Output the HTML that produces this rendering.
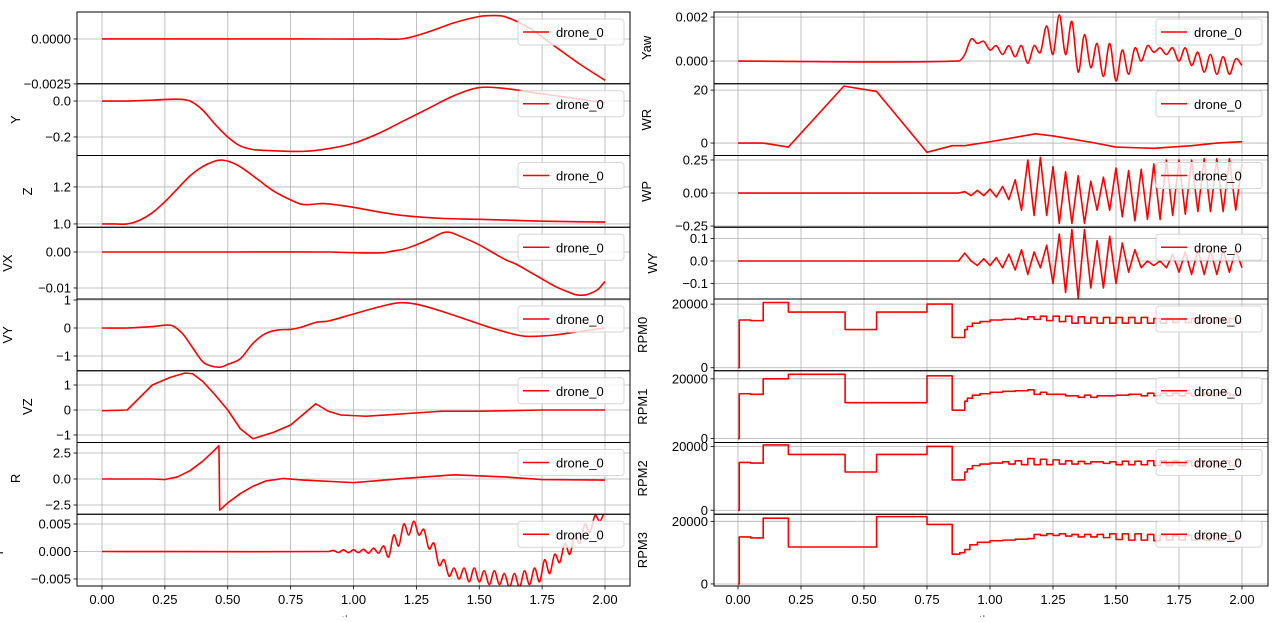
<!DOCTYPE html>
<html><head><meta charset="utf-8"><style>
html,body{margin:0;padding:0;background:#fff;}
svg text{font-family:"Liberation Sans","DejaVu Sans",sans-serif;font-size:13px;fill:#000;}
</style></head><body>
<svg id="fig" xmlns="http://www.w3.org/2000/svg" width="1280" height="617" viewBox="0 0 1280 617"></svg>
<script>
// ---------- data ----------
const xTicks = [0, 0.25, 0.5, 0.75, 1.0, 1.25, 1.5, 1.75, 2.0];
const xTickLabels = ["0.00","0.25","0.50","0.75","1.00","1.25","1.50","1.75","2.00"];

const xT = [0,0.4,0.8,1.1,1.2,1.3,1.4,1.5,1.55,1.6,1.7,1.8,1.9,2.0];
const xV = [0,0,0,0,0.00002,0.0004,0.0009,0.00125,0.0013,0.00125,0.0006,-0.0004,-0.0014,-0.0023];

const yT = [0,0.1,0.2,0.3,0.35,0.4,0.45,0.5,0.55,0.6,0.65,0.8,0.9,1.0,1.1,1.2,1.3,1.4,1.5,1.6,1.7,1.8,1.9,2.0];
const yV = [0,0,0.005,0.01,0.0,-0.05,-0.13,-0.2,-0.25,-0.27,-0.275,-0.28,-0.265,-0.235,-0.18,-0.11,-0.04,0.03,0.075,0.07,0.05,0.03,0.01,-0.01];

const zT = [0,0.05,0.1,0.15,0.2,0.25,0.3,0.35,0.4,0.45,0.48,0.52,0.56,0.62,0.68,0.75,0.8,0.88,0.95,1.0,1.1,1.2,1.35,1.5,1.75,2.0];
const zV = [1.0,1.0,1.0,1.02,1.06,1.12,1.19,1.26,1.31,1.34,1.345,1.33,1.3,1.24,1.18,1.13,1.105,1.11,1.1,1.09,1.065,1.045,1.03,1.025,1.015,1.01];

const vxT = [0,0.5,0.9,1.0,1.12,1.15,1.2,1.25,1.3,1.35,1.38,1.42,1.5,1.55,1.6,1.65,1.7,1.75,1.8,1.85,1.88,1.9,1.93,1.97,2.0];
const vxV = [0,0,0,-0.0002,-0.0002,0.0002,0.0008,0.002,0.0035,0.0052,0.0055,0.0045,0.002,0.0,-0.002,-0.0035,-0.0055,-0.0075,-0.0095,-0.011,-0.0118,-0.012,-0.0118,-0.0105,-0.0082];

const vyT = [0,0.1,0.2,0.25,0.28,0.32,0.36,0.4,0.43,0.47,0.5,0.55,0.6,0.65,0.7,0.75,0.8,0.85,0.9,1.0,1.1,1.18,1.25,1.35,1.45,1.55,1.65,1.7,1.8,1.9,2.0];
const vyV = [0,0,0.05,0.1,0.08,-0.2,-0.7,-1.2,-1.35,-1.4,-1.3,-1.1,-0.55,-0.2,-0.07,-0.05,0.05,0.2,0.25,0.5,0.75,0.9,0.85,0.6,0.3,0.0,-0.25,-0.3,-0.25,-0.12,0.0];

const vzT = [0,0.1,0.2,0.27,0.33,0.36,0.4,0.45,0.5,0.55,0.6,0.68,0.75,0.85,0.9,0.95,1.05,1.2,1.35,1.5,1.75,2.0];
const vzV = [-0.03,0,1.0,1.3,1.48,1.45,1.15,0.6,0.0,-0.75,-1.15,-0.9,-0.6,0.25,-0.05,-0.2,-0.25,-0.15,-0.05,-0.05,0,0];

const rT = [0,0.2,0.25,0.3,0.35,0.4,0.44,0.465,0.468,0.5,0.55,0.6,0.65,0.72,0.8,1.0,1.2,1.4,1.6,1.75,2.0];
const rV = [0,0,-0.05,0.2,0.8,1.7,2.6,3.2,-3.0,-2.3,-1.4,-0.7,-0.2,0.05,-0.1,-0.35,0.05,0.4,0.2,-0.05,-0.1];

const pT = [0,0.9,0.92,0.94,0.96,0.98,1.0,1.02,1.04,1.06,1.08,1.1,1.12,1.14,1.16,1.18,1.2,1.22,1.24,1.26,1.28,1.3,1.32,1.34,1.36,1.38,1.4,1.42,1.44,1.46,1.48,1.5,1.52,1.54,1.56,1.58,1.6,1.62,1.64,1.66,1.68,1.7,1.72,1.74,1.76,1.78,1.8,1.82,1.84,1.86,1.88,1.9,1.92,1.94,1.96,1.98,2.0];
const pV = [0,0,0.0002,-0.0002,0.0003,-0.0002,0.0003,-0.0002,0.0004,-0.0003,0.0006,-0.0003,0.001,-0.001,0.003,0.001,0.005,0.003,0.0055,0.003,0.004,0.0005,0.0015,-0.0025,-0.0015,-0.0045,-0.003,-0.005,-0.003,-0.0055,-0.003,-0.0055,-0.0035,-0.006,-0.0035,-0.006,-0.004,-0.0065,-0.004,-0.0065,-0.0035,-0.006,-0.003,-0.0055,-0.0015,-0.004,-0.0005,-0.002,0.0015,-0.0005,0.003,0.0015,0.005,0.0035,0.0065,0.0055,0.0075];

const osT = [0,0.875,0.9,0.925,0.95,0.975,1.0,1.025,1.05,1.075,1.1,1.125,1.15,1.175,1.2,1.225,1.25,1.275,1.3,1.325,1.35,1.375,1.4,1.425,1.45,1.475,1.5,1.525,1.55,1.575,1.6,1.625,1.65,1.675,1.7,1.725,1.75,1.775,1.8,1.825,1.85,1.875,1.9,1.925,1.95,1.975,2.0];
const yawV = [0,0,0.0003,0.001,0.0008,0.0009,0.0005,0.0007,0.0003,0.0007,0.0002,0.0007,-0.0001,0.0007,0.0004,0.0016,0.0003,0.0021,0.0003,0.0018,-0.0005,0.0012,-0.0003,0.0008,-0.0007,0.0008,-0.0009,0.0005,-0.0006,0.0006,0.0,0.0007,0.0004,0.0006,0.0003,0.0006,0.0,0.0006,-0.0002,0.0004,-0.0005,0.0003,-0.0006,0.0002,-0.0006,0.0001,-0.0002];
const wpV = [0,0,0.01,-0.02,0.02,-0.02,0.03,-0.03,0.05,-0.05,0.1,-0.13,0.25,-0.17,0.27,-0.17,0.2,-0.23,0.16,-0.23,0.13,-0.23,0.09,-0.13,0.12,-0.13,0.19,-0.18,0.17,-0.21,0.18,-0.2,0.22,-0.2,0.25,-0.17,0.25,-0.16,0.25,-0.14,0.26,-0.14,0.26,-0.14,0.26,-0.13,0.22];
const wyV = [0,0,0.035,0.0,-0.02,0.01,-0.02,0.015,-0.03,0.03,-0.04,0.05,-0.06,0.04,-0.03,0.07,-0.1,0.12,-0.14,0.14,-0.165,0.14,-0.12,0.09,-0.12,0.11,-0.1,0.08,-0.05,0.05,-0.03,0.0,-0.02,0.0,-0.03,0.03,-0.05,0.04,-0.06,0.05,-0.06,0.05,-0.06,0.05,-0.05,0.05,-0.03];

const wrT = [0,0.1,0.2,0.42,0.55,0.75,0.85,0.9,1.0,1.18,1.25,1.4,1.5,1.65,1.8,1.9,2.0];
const wrV = [0,0,-1.5,21.5,19.5,-3.5,-1,-1,0.5,3.5,2.7,0.3,-1.5,-2,-1,0,0.5];

const rpm0T = [0,0.005,0.05,0.1,0.2,0.425,0.55,0.75,0.85,0.9,0.91,0.93,0.96,1.0,1.05,1.1,1.125,1.15,1.175,1.2,1.225,1.25,1.275,1.3,1.325,1.35,1.375,1.4,1.425,1.45,1.475,1.5,1.525,1.55,1.575,1.6,1.625,1.65,1.675,1.7,1.725,1.75,1.775,1.8,1.825,1.85,1.875,1.9,1.925,1.95,1.975,2.0];
const rpm0V = [0,15000,14800,20500,17500,12000,17500,20000,9500,12000,13000,14000,14500,15000,15200,15500,15200,16000,15200,16200,14800,16200,14500,16200,14000,16000,14000,15800,14000,15800,14000,15800,14000,15800,14000,15800,14000,15500,14000,15500,14200,15500,14200,15500,14200,15500,14200,15500,14200,15500,14200,14200];
const rpm1T = [0,0.005,0.05,0.1,0.2,0.425,0.75,0.85,0.9,0.91,0.93,0.96,1.0,1.05,1.1,1.15,1.175,1.2,1.225,1.3,1.35,1.375,1.4,1.425,1.5,1.55,1.6,1.625,1.65,1.675,1.7,1.725,1.75,1.775,1.8,1.85,1.875,1.9,1.95,2.0];
const rpm1V = [0,15000,14800,20000,21500,12000,21000,9500,12500,13500,14500,15000,15500,15800,16000,16300,14800,15500,14800,14300,13800,14500,13800,14300,14500,14800,14300,15200,14300,15200,14300,15200,14300,15200,14300,15200,14300,15200,14500,14500];
const rpm2T = [0,0.005,0.05,0.1,0.2,0.425,0.55,0.75,0.85,0.9,0.91,0.93,0.96,1.0,1.05,1.075,1.1,1.125,1.15,1.175,1.2,1.225,1.25,1.275,1.3,1.325,1.35,1.375,1.4,1.45,1.475,1.5,1.525,1.55,1.575,1.6,1.625,1.65,1.675,1.7,1.725,1.75,1.775,1.8,1.825,1.85,1.875,1.9,1.925,1.95,1.975,2.0];
const rpm2V = [0,15000,14800,20500,17500,12000,17500,20000,9500,12000,13000,14000,14500,14800,15200,14500,15500,14300,16200,14300,16000,14300,15800,14500,15500,14500,15300,14600,15200,14700,15200,14300,15400,14300,15400,14300,15500,14000,15500,14000,15500,14000,15500,14000,15500,14000,15500,14000,15500,14000,15500,15500];
const rpm3T = [0,0.005,0.05,0.1,0.2,0.55,0.75,0.85,0.88,0.9,0.92,0.95,1.0,1.05,1.1,1.15,1.175,1.2,1.225,1.25,1.275,1.3,1.325,1.35,1.375,1.4,1.425,1.45,1.475,1.5,1.525,1.55,1.575,1.6,1.625,1.65,1.675,1.7,1.725,1.75,1.775,1.8,1.825,1.85,1.875,1.9,1.925,1.95,1.975,2.0];
const rpm3V = [0,15000,14700,21000,11800,21500,19000,9500,10000,11000,12500,13300,13800,14000,14300,14500,15800,15500,16000,15500,16000,15300,15800,15000,15800,15000,15800,14800,16000,14200,16000,14000,16000,14000,15800,13800,15500,14000,15500,14000,15500,14000,15500,14000,15500,14000,15500,14000,15000,15000];

const panelLabels = ["", "Y","Z","VX","VY","VZ","R","P","Yaw","WR","WP","WY","RPM0","RPM1","RPM2","RPM3"];
const panelTicks = [[0,-0.0025],[0,-0.2],[1.0,1.2],[0,-0.01],[-1,0,1],[-1,0,1],[-2.5,0,2.5],[-0.005,0,0.005],
  [0,0.002],[0,20],[-0.25,0,0.25],[-0.1,0,0.1],[0,20000],[0,20000],[0,20000],[0,20000]];
const panelTickLabels = [["0.0000","\u22120.0025"],["0.0","\u22120.2"],["1.0","1.2"],["0.00","\u22120.01"],["\u22121","0","1"],["\u22121","0","1"],["\u22122.5","0.0","2.5"],["\u22120.005","0.000","0.005"],
  ["0.000","0.002"],["0","20"],["\u22120.25","0.00","0.25"],["\u22120.1","0.0","0.1"],["0","20000"],["0","20000"],["0","20000"],["0","20000"]];

// ---------- layout (scales, not data) ----------
const series = [[xT,xV,0],[yT,yV,0],[zT,zV,0],[vxT,vxV,0],[vyT,vyV,0],[vzT,vzV,0],[rT,rV,0],[pT,pV,0],
  [osT,yawV,0],[wrT,wrV,0],[osT,wpV,0],[osT,wyV,0],[rpm0T,rpm0V,1],[rpm1T,rpm1V,1],[rpm2T,rpm2V,1],[rpm3T,rpm3V,1]];
const smoothPanels = [1,1,1,1,1,0,0,1, 1,0,0,0,0,0,0,0];
const yDomains = [[-0.00249,0.0015],[-0.303,0.096],[0.982,1.37],[-0.01306,0.00688],[-1.527,1.036],[-1.3,1.57],[-3.39,3.51],[-0.00627,0.00677],
  [-0.00103,0.00223],[-4.7,22.4],[-0.259,0.284],[-0.169,0.15],[-950,21600],[-1330,22700],[-1250,21250],[-650,22260]];
const yLabelX = [0,20,32,12,12,32,20,3,651,651,651,657,647,647,647,647];

const NS="http://www.w3.org/2000/svg";
const svg=document.getElementById('fig');
function mk(tag,attrs,parent){const e=document.createElementNS(NS,tag);for(const k in attrs)e.setAttribute(k,attrs[k]);(parent||svg).appendChild(e);return e;}
const defs=mk('defs',{});
const PH=71.75, TOP=12;

for(let i=0;i<16;i++){
  const col=i<8?0:1, row=i%8;
  const L=col?714:77, R=col?1268:630, x0=col?738:102, xs=col?252:251.5;
  const top=TOP+row*PH, h=PH;
  const [ymin,ymax]=yDomains[i];
  const X=t=>x0+t*xs;
  const Y=v=>top+(ymax-v)/(ymax-ymin)*h;
  const g=mk('g',{});
  
  
  const cp=mk('clipPath',{id:'c'+i},defs); mk('rect',{x:L,y:top,width:R-L,height:h},cp);
  xTicks.forEach(t=>{const l=mk('line',{x1:X(t),x2:X(t),y1:top,y2:top+h,stroke:'#b0b0b0','stroke-width':0.8},g);
    });
  panelTicks[i].forEach((v,k)=>{
    const y=Y(v);
    const gl=mk('line',{x1:L,x2:R,y1:y,y2:y,stroke:'#b0b0b0','stroke-width':0.8},g);
    
    mk('line',{x1:L-3.5,x2:L,y1:y,y2:y,stroke:'#000','stroke-width':0.8},g);
    const tx=mk('text',{x:L-6,y:y+4.5,'text-anchor':'end'},g);tx.textContent=panelTickLabels[i][k];
    
  });
  const [T,V,step]=series[i];
  const pts=T.map((t,k)=>[X(t),Y(V[k])]);
  const n=pts.length;
  const slope=k=>{const a=pts[Math.max(0,k-1)],b=pts[Math.min(n-1,k+1)];return (b[1]-a[1])/((b[0]-a[0])||1);};
  let d='M'+pts[0][0]+','+pts[0][1];
  for(let k=1;k<n;k++){
    const [px,py]=pts[k];
    if(step){d+=' L'+px+','+pts[k-1][1]+' L'+px+','+py;}
    else if(smoothPanels[i]){
      const p1=pts[k-1],dx=(px-p1[0])/3;
      const m1=slope(k-1),m2=slope(k);
      d+=' C'+(p1[0]+dx)+','+(p1[1]+m1*dx)+' '+(px-dx)+','+(py-m2*dx)+' '+px+','+py;
    }
    else d+=' L'+px+','+py;
  }
  const p=mk('path',{d:d,fill:'none',stroke:'#ff0000','stroke-width':1.6,'stroke-linejoin':'round','clip-path':'url(#c'+i+')'},g);
  
  const fr=mk('rect',{x:L,y:top,width:R-L,height:h,fill:'none',stroke:'#000','stroke-width':1},g);
  
  const lg=mk('g',{},g);
  
  const lx=R-112, ly=top+7;
  mk('rect',{x:lx,y:ly,width:106,height:26,rx:3,fill:'rgba(255,255,255,0.8)',stroke:'#d6d6d6','stroke-width':1},lg);
  mk('line',{x1:lx+5,x2:lx+31,y1:ly+13,y2:ly+13,stroke:'#ff0000','stroke-width':1.6},lg);
  const lt=mk('text',{x:lx+38,y:ly+18},lg);lt.textContent='drone_0';
  
  if(panelLabels[i]){
    const yl=mk('text',{x:yLabelX[i],y:top+h/2,'text-anchor':'middle',transform:'rotate(-90 '+yLabelX[i]+' '+(top+h/2)+')'},g);
    yl.textContent=panelLabels[i];
    
  }
  if(row===7){
    xTicks.forEach((t,k)=>{
      mk('line',{x1:X(t),x2:X(t),y1:top+h,y2:top+h+3.5,stroke:'#000','stroke-width':0.8},g);
      const tx=mk('text',{x:X(t),y:top+h+18,'text-anchor':'middle'},g);tx.textContent=xTickLabels[k];
      
    });
    const xl=mk('text',{x:(L+R)/2,y:625,'text-anchor':'middle'},g);xl.textContent='time';
    
  }
}
</script>
</body></html>
